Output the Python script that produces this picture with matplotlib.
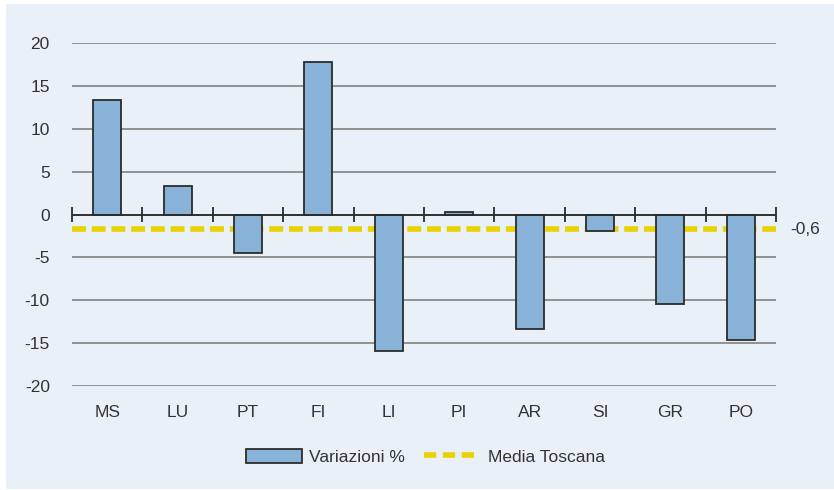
import matplotlib.pyplot as plt
from matplotlib.lines import Line2D
from matplotlib.patches import Patch, Rectangle
from matplotlib import font_manager

# data
province = ["MS", "LU", "PT", "FI", "LI", "PI", "AR", "SI", "GR", "PO"]
variazioni = [13.3, 3.3, -4.5, 17.8, -15.9, 0.3, -13.4, -1.9, -10.4, -14.6]
media_toscana = -1.7
media_label = "-0,6"
y_ticks = [-20, -15, -10, -5, 0, 5, 10, 15, 20]

names = {f.name for f in font_manager.fontManager.ttflist}
font = "Liberation Sans Narrow" if "Liberation Sans Narrow" in names else "Liberation Sans"
plt.rcParams['font.family'] = [font, 'DejaVu Sans']
plt.rcParams['font.size'] = 12.5
plt.rcParams['axes.unicode_minus'] = False

bg = "#eaf0f8"
bar_col = "#88b2d8"
yellow = "#e8d200"
txt = "#333333"
dark = "#2b2b2b"

fig = plt.figure(figsize=(8.34, 4.9), dpi=100)
fig.patch.set_facecolor("white")
fig.patches.append(Rectangle((6 / 834, 1 / 490), 828 / 834, 485 / 490,
                             transform=fig.transFigure, facecolor=bg,
                             edgecolor="none", zorder=-10))

ax = fig.add_axes([72 / 834, 1 - 386 / 490, 704 / 834, 343 / 490])
ax.set_facecolor("none")

x = list(range(len(province)))
ax.bar(x, variazioni, width=0.4, color=bar_col, edgecolor=dark,
       linewidth=1.3, zorder=3)

ax.set_xlim(-0.5, len(province) - 0.5)
ax.set_ylim(-20, 20)
ax.set_yticks(y_ticks)
ax.yaxis.grid(True, color="#8a8a8a", linewidth=1.3, zorder=0)
ax.tick_params(axis="y", length=0, pad=16, labelcolor=txt, labelsize=12.5)
ax.set_xticks(x)
ax.set_xticklabels(province)
ax.tick_params(axis="x", length=0, pad=14, labelcolor=txt, labelsize=12.5)
for s in ax.spines.values():
    s.set_visible(False)

# zero axis with category separators
ax.axhline(0, color=dark, linewidth=1.3, zorder=4)
bounds = [i - 0.5 for i in range(len(province) + 1)]
ax.vlines(bounds, -0.9, 0.9, color=dark, linewidth=1.3, zorder=4,
          clip_on=False)

ax.axhline(media_toscana, color=yellow, linewidth=4, dashes=(2.5, 1.05),
           zorder=2.5)
ax.text(1.02, media_toscana, media_label, transform=ax.get_yaxis_transform(),
        va="center", ha="left", color=txt, fontsize=12.5)

handles = [Patch(facecolor=bar_col, edgecolor=dark, linewidth=1.3),
           Line2D([], [], color=yellow, linewidth=4, dashes=(2.2, 1.2))]
leg = fig.legend(handles, ["Variazioni %", "Media Toscana"], loc="center",
                 bbox_to_anchor=(0.51, 1 - 457 / 490), ncol=2, frameon=False,
                 handlelength=3.2, handleheight=0.9, columnspacing=1.1,
                 handletextpad=0.45, fontsize=12.5)
for t in leg.get_texts():
    t.set_color(txt)

fig.savefig("out.png", dpi=100)
